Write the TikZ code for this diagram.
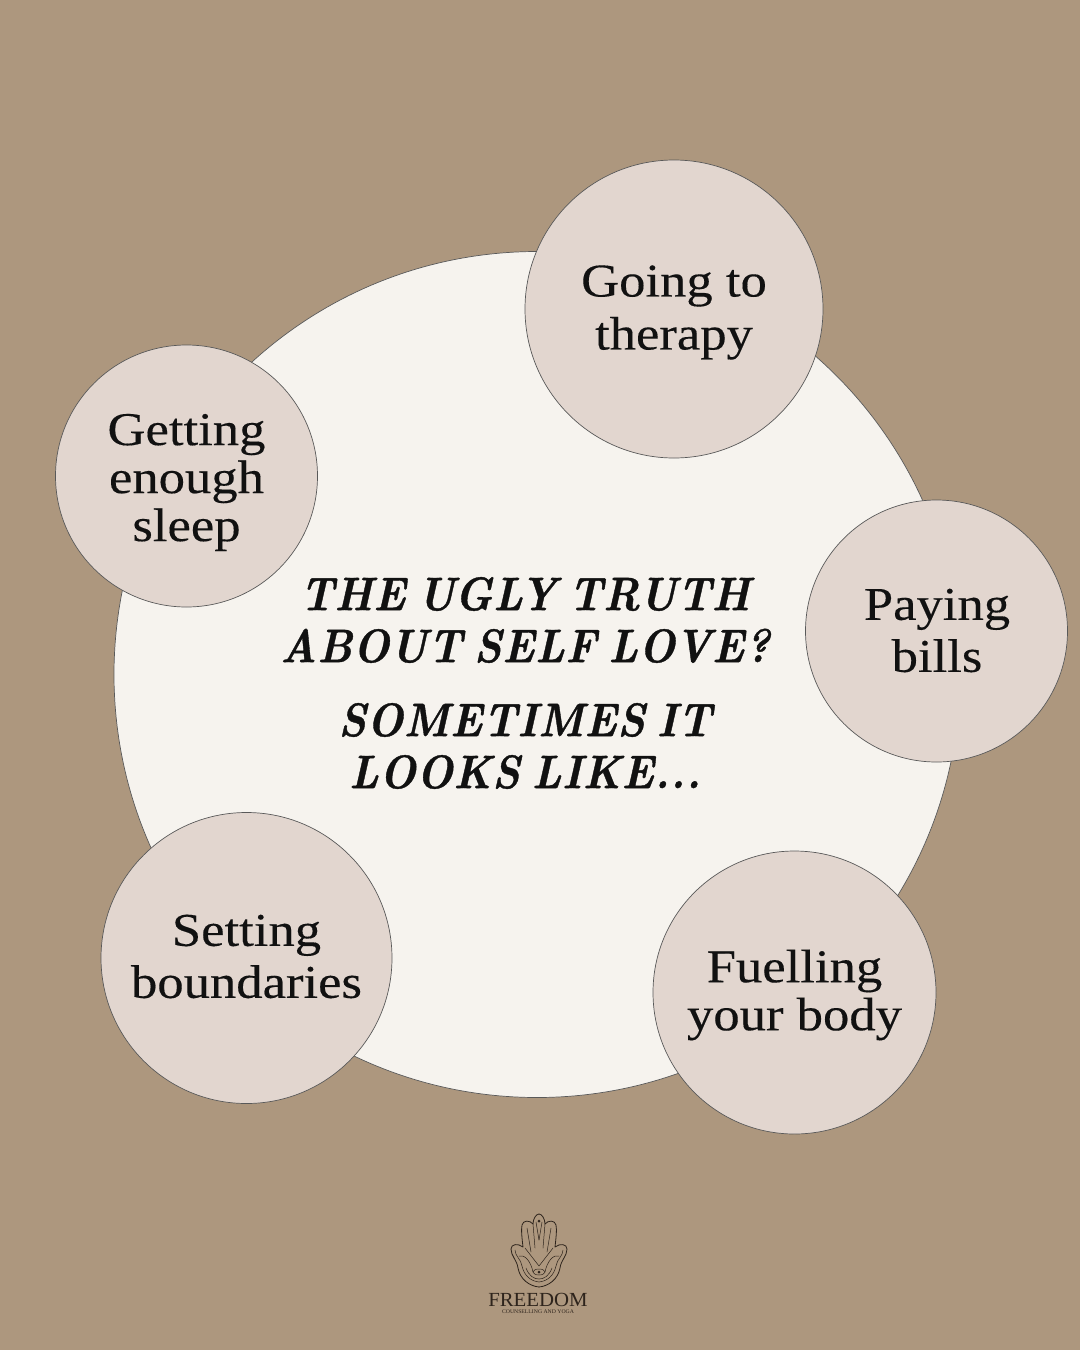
\documentclass[tikz,border=0pt]{standalone}
\usepackage{fontspec}
\newfontfamily\bodyf[FakeStretch=1.12,FakeBold=0.25]{Liberation Serif}
\newfontfamily\titlef[BoldItalicFont={Latin Modern Roman/BI},BoldItalicFeatures={FakeStretch=0.91,LetterSpace=1,FakeBold=0.8,WordSpace=0.65}]{Latin Modern Roman}
\newfontfamily\logof[FakeStretch=1.04]{Liberation Serif}
\definecolor{bgc}{HTML}{AD977E}
\definecolor{bigc}{HTML}{F6F3EE}
\definecolor{smallc}{HTML}{E2D6CF}
\definecolor{inkc}{HTML}{111111}
\definecolor{logoc}{HTML}{2E241C}
\tikzset{
  x=1pt,y=-1pt,
  disc/.style={circle,draw=black!65,line width=0.7pt,fill=#1,inner sep=0pt,outer sep=0pt},
  bodytext/.style={font=\bodyf\fontsize{47}{#1}\selectfont,text=inkc,align=center,inner sep=0pt},
  titletext/.style={font=\titlef\bfseries\itshape\fontsize{47}{52}\selectfont,text=inkc,align=center,inner sep=0pt},
  logoline/.style={draw=logoc,line width=0.8pt,line join=round,line cap=round}
}
\begin{document}
\begin{tikzpicture}
\useasboundingbox (0,0) rectangle (1080,1350);
\fill[bgc] (0,0) rectangle (1080,1350);
\node[disc=bigc,minimum size=846pt] (hub) at (537,674.5) {};
\node[disc=smallc,minimum size=298pt] (going) at (674,309) {};
\node[disc=smallc,minimum size=262pt] (paying) at (936.5,631) {};
\node[disc=smallc,minimum size=283pt] (fuel) at (794.5,992.5) {};
\node[disc=smallc,minimum size=291pt] (setting) at (246.5,958) {};
\node[disc=smallc,minimum size=262pt] (sleep) at (186.5,476) {};
\node[bodytext=53] (goingt) at (674,312.5) {Going to\\therapy};
\node[bodytext=52] (payingt) at (937,630.5) {Paying\\bills};
\node[bodytext=48] (fuelt) at (794.5,995) {Fuelling\\your body};
\node[bodytext=52] (settingt) at (246.5,956.5) {Setting\\boundaries};
\node[bodytext=48] (sleept) at (186.5,482.5) {Getting\\enough\\sleep};
\node[titletext] (t1) at (525,620) {THE UGLY TRUTH\\ABOUT SELF LOVE?};
\node[titletext] (t2) at (525,746) {SOMETIMES IT\\LOOKS LIKE...};
% logo: hamsa hand
\foreach \s in {1,-1}{
\begin{scope}[shift={(539,0)},xscale=\s]
 \draw[logoline] (0,1287) .. controls (-10,1286) and (-19,1279) .. (-21,1268)
   .. controls (-22,1260) and (-28,1256) .. (-28,1249)
   .. controls (-28,1244) and (-21,1243) .. (-16,1247)
   .. controls (-17,1238) and (-18,1230) .. (-17,1225)
   .. controls (-16,1220) and (-9,1220) .. (-6,1224)
   .. controls (-6,1219) and (-3,1214) .. (0,1214);
 \draw[logoline,line width=0.5pt] (0,1282) .. controls (-9,1281) and (-15,1275) .. (-17,1266)
   .. controls (-18,1259) and (-24,1256) .. (-24,1250);
 \draw[logoline,line width=0.5pt] (-6,1224) -- (-4,1248) (-12,1228) -- (-8,1252) (-3,1222) -- (0,1240) (-14,1248) -- (0,1266)
   (-20,1256) .. controls (-14,1254) and (-8,1262) .. (-6,1272) (-13,1268) .. controls (-10,1276) and (-5,1279) .. (0,1279);
\end{scope}}
\draw[logoline,line width=0.5pt] (539,1272) ellipse [x radius=6,y radius=3];
\fill[logoc] (539,1272) circle (1.5);
\fill[logoc] (539,1221) circle (1.5);
\node[font=\logof\fontsize{20}{20}\selectfont,text=logoc,inner sep=0pt] (brand) at (538,1300) {FREEDOM};
\node[font=\logof\fontsize{5.5}{6}\selectfont,text=logoc,inner sep=0pt] (sub) at (538,1312) {COUNSELLING AND YOGA};
\end{tikzpicture}
\end{document}
